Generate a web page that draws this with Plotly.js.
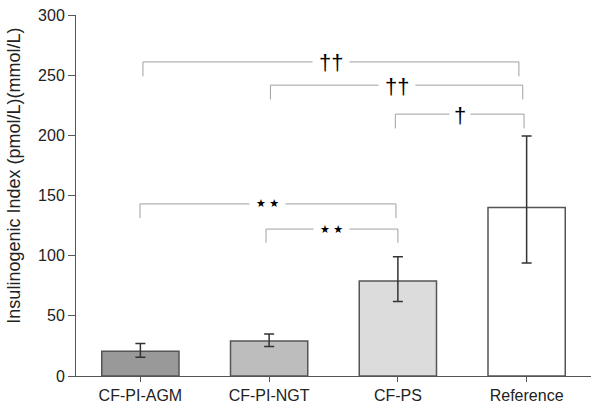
<!DOCTYPE html>
<html>
<head>
<meta charset="utf-8">
<script src="https://cdn.plot.ly/plotly-3.0.1.min.js"></script>
<style>html,body{margin:0;padding:0;background:#fff;}#chart{width:601px;height:412px;}</style>
</head>
<body>
<div id="chart"></div>
<script>
// Data
const categories = ['CF-PI-AGM', 'CF-PI-NGT', 'CF-PS', 'Reference'];
const means = [20.5, 29, 79, 140];
const errPlus = [6.5, 6, 20, 59.5];
const errMinus = [5, 4.5, 17, 46];
const barColors = ['#999999', '#bdbdbd', '#dcdcdc', '#ffffff'];

// Significance brackets (category index positions, y values)
const bracketFrom = [0.02, 1.01, 1.98, -0.003, 0.976];
const bracketTo = [2.94, 2.97, 2.98, 1.985, 2.0];
const bracketY = [261, 241.7, 217.6, 143, 122.1];
const bracketDrop = [249, 229.8, 205.7, 131.3, 110.7];
const bracketLabel = ['††', '††', '†', '★ ★', '★ ★'];

const idx = categories.map((c, i) => i);

const trace = {
  type: 'bar',
  x: idx,
  y: means,
  width: 0.6,
  marker: { color: barColors, line: { color: '#555555', width: 1.5 } },
  error_y: {
    type: 'data', symmetric: false, array: errPlus, arrayminus: errMinus,
    color: '#333333', thickness: 1.5, width: 5
  },
  hoverinfo: 'none'
};

const shapes = [];
const annotations = [];
for (let i = 0; i < bracketFrom.length; i++) {
  shapes.push({
    type: 'path', xref: 'x', yref: 'y',
    path: 'M ' + bracketFrom[i] + ',' + bracketDrop[i] + ' L ' + bracketFrom[i] + ',' + bracketY[i] +
          ' L ' + bracketTo[i] + ',' + bracketY[i] + ' L ' + bracketTo[i] + ',' + bracketDrop[i],
    line: { color: '#a0a0a0', width: 1 }
  });
  const isStar = bracketLabel[i].indexOf('★') >= 0;
  annotations.push({
    xref: 'x', yref: 'y',
    x: (bracketFrom[i] + bracketTo[i]) / 2, y: bracketY[i],
    text: bracketLabel[i], showarrow: false,
    bgcolor: '#ffffff', borderpad: isStar ? 6 : (bracketLabel[i] === '†' ? 4 : 6),
    yshift: isStar ? 0 : -1,
    font: { family: isStar ? 'DejaVu Sans' : 'Liberation Sans, Arial', size: isStar ? 11 : 22, color: '#000000' }
  });
}
annotations.push({
  xref: 'paper', yref: 'paper', x: 0, xshift: -62, xanchor: 'center', y: 0.555, yanchor: 'middle',
  text: 'Insulinogenic Index (pmol/L)(mmol/L)', showarrow: false, textangle: -90,
  font: { family: 'Liberation Sans, Arial', size: 18, color: '#222222' }
});

const layout = {
  width: 601, height: 412,
  margin: { l: 76, r: 10, t: 15, b: 36 },
  paper_bgcolor: '#ffffff', plot_bgcolor: '#ffffff',
  showlegend: false,
  font: { family: 'Liberation Sans, Arial', size: 15, color: '#222222' },
  xaxis: {
    range: [-0.5, 3.5], tickvals: idx, ticktext: categories,
    showgrid: false, zeroline: false, showline: true, linecolor: '#555555', linewidth: 1,
    ticks: 'outside', ticklen: 5, tickcolor: '#555555', tickfont: { size: 16 }
  },
  yaxis: {
    range: [0, 300], tickvals: [0, 50, 100, 150, 200, 250, 300],
    showgrid: false, zeroline: false, showline: true, linecolor: '#555555', linewidth: 1,
    ticks: 'outside', ticklen: 7, tickcolor: '#555555', tickfont: { size: 16 }
  },
  shapes: shapes,
  annotations: annotations
};

Plotly.newPlot('chart', [trace], layout, { staticPlot: true, displayModeBar: false });
</script>
</body>
</html>
